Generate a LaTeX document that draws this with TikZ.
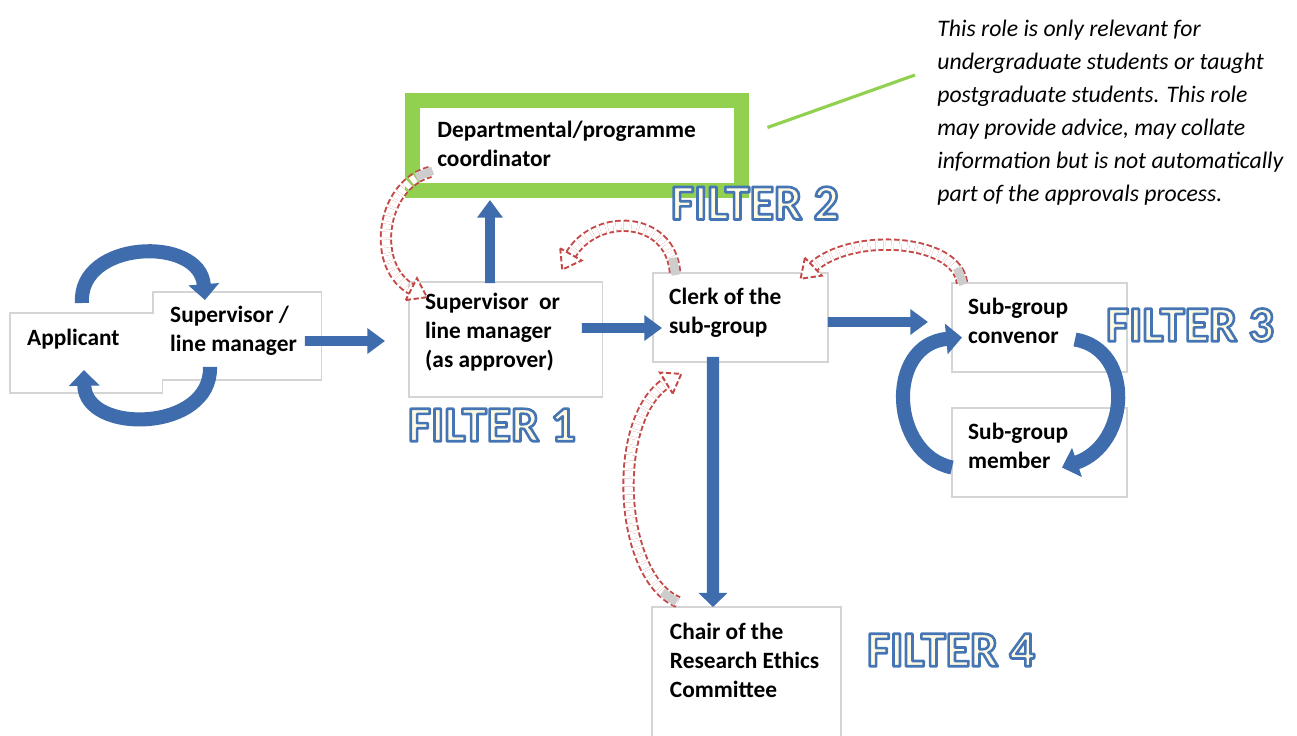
\documentclass[tikz,border=0pt]{standalone}
\usepackage{fontspec}
\setmainfont{Carlito}
\usetikzlibrary{positioning,calc,arrows.meta,decorations.markings}

\definecolor{flowblue}{RGB}{62,108,172}
\definecolor{advicered}{RGB}{196,72,70}
\definecolor{coordgreen}{RGB}{146,208,80}
\definecolor{boxgray}{RGB}{212,212,212}
\definecolor{tailgray}{RGB}{205,205,205}

% outlined FILTER labels: name, position, text
\newcommand{\filterlabel}[3]{%
  \node[filter] (#1) at (#2) {\special{pdf:literal direct 0.27 0.46 0.71 RG 1 0.98 0.89 rg 1.5 w 1 j 2 Tr}#3\special{pdf:literal direct 0 Tr}};
}

\begin{document}
\begin{tikzpicture}[x=0.02cm, y=-0.02cm,
  box/.style={draw=boxgray, line width=0.6pt, fill=white, anchor=north west, inner sep=0pt, outer sep=0pt},
  frame/.style={box, draw=none, fill=none},
  boxtext/.style={anchor=north west, align=left, inner sep=0pt, xshift=9pt, yshift=-8.5pt, font=\bfseries\fontsize{13.3}{16.5}\selectfont},
  note/.style={anchor=north west, align=left, inner sep=0pt, font=\itshape\fontsize{13.5}{18.7}\selectfont},
  filter/.style={inner sep=0pt, font=\bfseries\fontsize{28.5}{30}\selectfont},
  flow/.style={draw=flowblue, line width=5.5pt, -{Triangle[length=10pt, width=14pt]}},
  loopy/.style={draw=flowblue, line width=8pt, -{Triangle[length=9pt, width=17pt]}},
  advice/.style={preaction={draw=advicered, dash pattern=on 3pt off 1.5pt, line width=1.1pt, double=white, double distance=4.8pt},
    postaction={decorate, decoration={markings,
      mark=at position 0.04 with {\fill[tailgray] (-5pt,-2.4pt) rectangle (5pt,2.4pt);},
      mark=at position 0.999 with {\draw[advicered, dash pattern=on 3pt off 1.5pt, line width=1.1pt, fill=white] (-1pt,-7pt) -- (9pt,0pt) -- (-1pt,7pt) -- cycle;}}}}
]
\useasboundingbox (0,0) rectangle (1297,735);

% applicant and supervisor share one outline
\node[frame, minimum width=3.38cm, minimum height=1.76cm,
  label={[boxtext, xshift=0.6pt, yshift=0.5pt]north west:Supervisor /\\line manager}] (sup) at (153,292) {};
\node[frame, minimum width=3.06cm, minimum height=1.6cm,
  label={[boxtext, xshift=0.6pt, yshift=-0.5pt]north west:Applicant}] (appl) at (10,313) {};
\draw[boxgray, line width=0.6pt] (appl.north west) -- (appl.north west -| sup.west) -- (sup.north west)
  -- (sup.north east) -- (sup.south east) -- (sup.south -| appl.east) -- (appl.south east)
  -- (appl.south west) -- cycle;

\node[box, minimum width=3.88cm, minimum height=2.3cm,
  label={[boxtext, yshift=2.3pt]north west:Supervisor\ \ or\\line manager\\(as approver)}] (appr) at (409,282) {};
\node[box, draw=coordgreen, line width=8.5pt, minimum width=6.58cm, minimum height=1.8cm,
  label={[boxtext, xshift=4.9pt, yshift=-3.1pt]north west:Departmental/programme\\coordinator}] (dept) at (412.5,100.5) {};
\node[box, minimum width=3.5cm, minimum height=1.78cm,
  label={[boxtext]north west:Clerk of the\\sub-group}] (clerk) at (653,273) {};
\node[box, minimum width=3.5cm, minimum height=1.78cm,
  label={[boxtext]north west:Sub-group\\convenor}] (conv) at (952,283) {};
\node[box, minimum width=3.5cm, minimum height=1.78cm,
  label={[boxtext]north west:Sub-group\\member}] (memb) at (952,408) {};
\node[box, minimum width=3.78cm, minimum height=3.06cm,
  label={[boxtext, xshift=1pt, yshift=-0.5pt]north west:Chair of the\\Research Ethics\\Committee}] (chair) at (652,607) {};

\node[note] (note) at (937,20) {This role is only relevant for\\undergraduate students or taught\\postgraduate students. This role\\may provide advice, may collate\\information but is not automatically\\part of the approvals process.};
\draw[coordgreen, line width=1.8pt] ($(dept.east)+(26,-18)$) -- ($(note.north west)+(-22,55)$);

\filterlabel{filter1}{492,425}{FILTER 1}
\filterlabel{filter2}{755,203}{FILTER 2}
\filterlabel{filter3}{1190,325}{FILTER 3}
\filterlabel{filter4}{951,650}{FILTER 4}

% main flow
\draw[flow] ($(sup.east)+(-17,5)$) -- ($(appr.west)+(-24,1.5)$);
\draw[flow] ($(appr.north)+(-16,1)$) -- ($(dept.south)+(-87,9.5)$);
\draw[flow] ($(appr.east)+(-21,-11.5)$) -- ($(clerk.west)+(9,10.5)$);
\draw[flow] ($(clerk.east)+(0,4.5)$) -- ($(conv.west)+(-24,-5.5)$);
\draw[flow, line width=7pt, -{Triangle[length=8pt, width=16pt]}] ($(clerk.south)+(-27.5,-5)$) -- ($(chair.north)+(-33.5,0)$);

% loops
\draw[loopy] ($(appl.north)+(-4.5,-10)$) .. controls +(-4,-63) and +(-5,-65) .. ($(sup.north)+(-32.5,8)$);
\draw[loopy] ($(sup.south)+(-27.5,-13)$) .. controls +(2,65) and +(1,65) .. ($(appl.north)+(-2.5,57)$);
\draw[loopy] ($(memb.west)+(0,15)$) .. controls +(-62,-13) and +(-77,7) .. ($(conv.west)+(10,10)$);
\draw[loopy] ($(conv.east)+(-52,12)$) .. controls +(60,10) and +(68,-23) .. ($(memb.east)+(-65,15)$);

% advice paths
\path[advice] ($(dept.south west)+(17.5,-18.5)$) .. controls +(-50,13) and +(-43,-22) .. ($(appr.north west)+(4,8)$);
\path[advice] ($(clerk.north west)+(22,-1)$) .. controls +(-5,-57) and +(25,-44) .. ($(appr.north east)+(-33,-26)$);
\path[advice] ($(conv.north west)+(10,0)$) .. controls +(-5,-45) and +(38,-36) .. ($(clerk.north east)+(-16,-5)$);
\path[advice] ($(chair.north west)+(26,-5)$) .. controls +(-60,-25) and +(-58,35) .. ($(clerk.south west)+(15,20)$);
\end{tikzpicture}
\end{document}
